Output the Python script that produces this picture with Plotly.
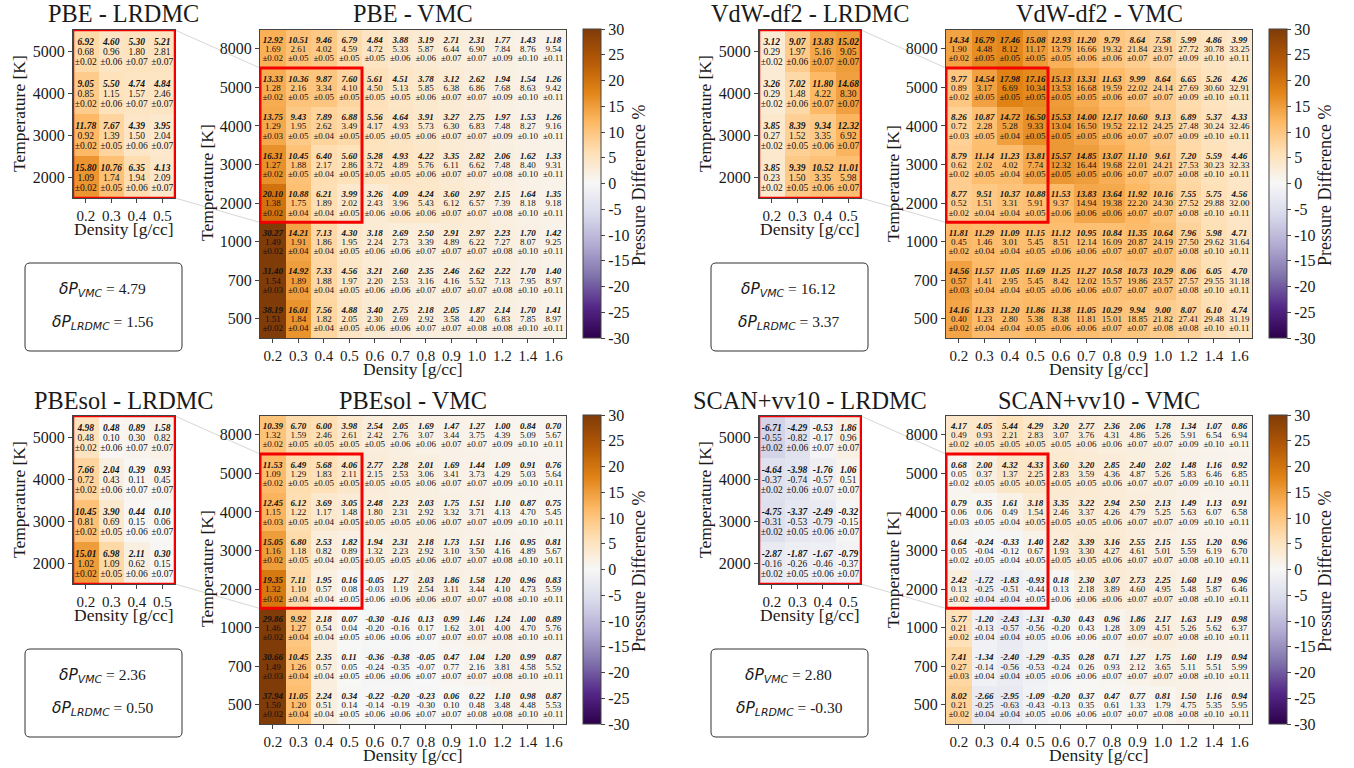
import plotly.graph_objects as go

DENSITY_VMC = ["0.2","0.3","0.4","0.5","0.6","0.7","0.8","0.9","1.0","1.2","1.4","1.6"]
DENSITY_LRDMC = ["0.2","0.3","0.4","0.5"]
TEMP_VMC = ["8000","5000","4000","3000","2000","1000","700","500"]
TEMP_LRDMC = ["5000","4000","3000","2000"]
CB_TICKS = [30,25,20,15,10,5,0,-5,-10,-15,-20,-25,-30]

VMC_ERR = [
 [.02,.05,.05,.05,.05,.06,.06,.07,.07,.09,.10,.11],
 [.02,.05,.05,.05,.05,.05,.06,.07,.07,.09,.10,.11],
 [.03,.05,.04,.05,.05,.05,.06,.07,.07,.09,.10,.11],
 [.02,.05,.04,.05,.05,.05,.06,.07,.07,.08,.10,.11],
 [.02,.04,.04,.05,.06,.06,.06,.07,.07,.08,.10,.11],
 [.02,.04,.04,.05,.06,.06,.07,.07,.07,.08,.10,.11],
 [.03,.04,.04,.05,.06,.06,.07,.07,.07,.08,.10,.11],
 [.02,.04,.04,.05,.06,.06,.07,.07,.08,.08,.10,.11],
]
LRDMC_ERR = [
 [.02,.06,.07,.07],
 [.02,.06,.07,.07],
 [.02,.05,.06,.07],
 [.02,.05,.06,.07],
]

PBE_VMC_PCT = [
 [12.92,10.51,9.46,6.79,4.84,3.88,3.19,2.71,2.31,1.77,1.43,1.18],
 [13.33,10.36,9.87,7.60,5.61,4.51,3.78,3.12,2.62,1.94,1.54,1.26],
 [13.75,9.43,7.89,6.88,5.56,4.64,3.91,3.27,2.75,1.97,1.53,1.26],
 [16.31,10.45,6.40,5.60,5.28,4.93,4.22,3.35,2.82,2.06,1.62,1.33],
 [20.10,10.88,6.21,3.99,3.26,4.09,4.24,3.60,2.97,2.15,1.64,1.35],
 [30.27,14.21,7.13,4.30,3.18,2.69,2.50,2.91,2.97,2.23,1.70,1.42],
 [31.40,14.92,7.33,4.56,3.21,2.60,2.35,2.46,2.62,2.22,1.70,1.40],
 [38.19,16.01,7.56,4.88,3.40,2.75,2.18,2.05,1.87,2.14,1.70,1.41],
]
PBE_VMC_P = [
 [1.69,2.61,4.02,4.59,4.72,5.33,5.87,6.44,6.90,7.84,8.76,9.54],
 [1.28,2.16,3.34,4.10,4.50,5.13,5.85,6.38,6.86,7.68,8.63,9.42],
 [1.29,1.95,2.62,3.49,4.17,4.93,5.73,6.30,6.83,7.48,8.27,9.16],
 [1.27,1.88,2.17,2.86,3.72,4.89,5.76,6.11,6.62,7.48,8.40,9.31],
 [1.38,1.75,1.89,2.02,2.43,3.96,5.43,6.12,6.57,7.39,8.18,9.18],
 [1.49,1.91,1.86,1.95,2.24,2.73,3.39,4.89,6.22,7.27,8.07,9.25],
 [1.54,1.89,1.88,1.97,2.20,2.53,3.16,4.16,5.52,7.13,7.95,8.97],
 [1.51,1.84,1.82,2.05,2.30,2.69,2.92,3.58,4.20,6.83,7.85,8.97],
]
PBE_LRDMC_PCT = [[6.92,4.60,5.30,5.21],[9.05,5.50,4.74,4.84],[11.78,7.67,4.39,3.95],[15.80,10.76,6.35,4.13]]
PBE_LRDMC_P = [[.68,.96,1.80,2.81],[.85,1.15,1.57,2.46],[.92,1.39,1.50,2.04],[1.09,1.74,1.94,2.09]]

VDW_VMC_PCT = [
 [14.34,16.79,17.46,15.08,12.93,11.20,9.79,8.64,7.58,5.99,4.86,3.99],
 [9.77,14.54,17.98,17.16,15.13,13.31,11.63,9.99,8.64,6.65,5.26,4.26],
 [8.26,10.87,14.72,16.50,15.53,14.00,12.17,10.60,9.13,6.89,5.37,4.33],
 [8.79,11.14,11.23,13.81,15.57,14.85,13.07,11.10,9.61,7.20,5.59,4.46],
 [8.77,9.51,10.37,10.88,11.53,13.83,13.64,11.92,10.16,7.55,5.75,4.56],
 [11.81,11.29,11.09,11.15,11.12,10.95,10.84,11.35,10.64,7.96,5.98,4.71],
 [14.56,11.57,11.05,11.69,11.25,11.27,10.58,10.73,10.29,8.06,6.05,4.70],
 [14.16,11.33,11.20,11.86,11.38,11.05,10.29,9.94,9.00,8.07,6.10,4.74],
]
VDW_VMC_P = [
 [1.90,4.48,8.12,11.17,13.79,16.66,19.32,21.84,23.91,27.72,30.78,33.25],
 [.89,3.17,6.69,10.34,13.53,16.68,19.59,22.02,24.14,27.69,30.60,32.91],
 [.72,2.28,5.28,9.33,13.04,16.50,19.52,22.12,24.25,27.48,30.24,32.46],
 [.62,2.02,4.02,7.74,12.32,16.44,19.68,22.01,24.21,27.53,30.23,32.33],
 [.52,1.51,3.31,5.91,9.37,14.94,19.38,22.20,24.30,27.52,29.88,32.00],
 [.45,1.46,3.01,5.45,8.51,12.14,16.09,20.87,24.19,27.50,29.62,31.64],
 [.57,1.41,2.95,5.45,8.42,12.02,15.57,19.86,23.57,27.57,29.55,31.18],
 [.40,1.23,2.80,5.38,8.38,11.81,15.01,18.85,21.82,27.41,29.48,31.19],
]
VDW_LRDMC_PCT = [[3.12,9.07,13.83,15.02],[3.26,7.02,11.80,14.68],[3.85,8.39,9.34,12.32],[3.85,9.39,10.52,11.01]]
VDW_LRDMC_P = [[.29,1.97,5.16,9.05],[.29,1.48,4.22,8.30],[.27,1.52,3.35,6.92],[.23,1.50,3.35,5.98]]

SOL_VMC_PCT = [
 [10.39,6.70,6.00,3.98,2.54,2.05,1.69,1.47,1.27,1.00,.84,.70],
 [11.53,6.49,5.68,4.06,2.77,2.28,2.01,1.69,1.44,1.09,.91,.76],
 [12.45,6.12,3.69,3.05,2.48,2.23,2.03,1.75,1.51,1.10,.87,.75],
 [15.05,6.80,2.53,1.82,1.94,2.31,2.18,1.73,1.51,1.16,.95,.81],
 [19.35,7.11,1.95,.16,-.05,1.27,2.03,1.86,1.58,1.20,.96,.83],
 [29.86,9.92,2.18,.07,-.30,-.16,.13,.99,1.46,1.24,1.00,.89],
 [30.66,10.45,2.35,.11,-.36,-.38,-.05,.47,1.04,1.20,.99,.87],
 [37.94,11.05,2.24,.34,-.22,-.20,-.23,.06,.22,1.10,.98,.87],
]
SOL_VMC_P = [
 [1.32,1.59,2.46,2.61,2.42,2.76,3.07,3.44,3.75,4.39,5.09,5.67],
 [1.09,1.29,1.83,2.11,2.15,2.53,3.06,3.41,3.73,4.29,5.03,5.64],
 [1.15,1.22,1.17,1.48,1.80,2.31,2.92,3.32,3.71,4.13,4.70,5.45],
 [1.16,1.18,.82,.89,1.32,2.23,2.92,3.10,3.50,4.16,4.89,5.67],
 [1.32,1.10,.57,.08,-.03,1.19,2.54,3.11,3.44,4.10,4.73,5.59],
 [1.46,1.27,.54,.04,-.20,-.16,.17,1.62,3.01,4.00,4.70,5.76],
 [1.49,1.26,.57,.05,-.24,-.35,-.07,.77,2.16,3.81,4.58,5.52],
 [1.50,1.20,.51,.14,-.14,-.19,-.30,.10,.48,3.48,4.48,5.53],
]
SOL_LRDMC_PCT = [[4.98,.48,.89,1.58],[7.66,2.04,.39,.93],[10.45,3.90,.44,.10],[15.01,6.98,2.11,.30]]
SOL_LRDMC_P = [[.48,.10,.30,.82],[.72,.43,.11,.45],[.81,.69,.15,.06],[1.02,1.09,.62,.15]]

SCAN_VMC_PCT = [
 [4.17,4.05,5.44,4.29,3.20,2.77,2.36,2.06,1.78,1.34,1.07,.86],
 [.68,2.00,4.32,4.33,3.60,3.20,2.85,2.40,2.02,1.48,1.16,.92],
 [.79,.35,1.61,3.18,3.35,3.22,2.94,2.50,2.13,1.49,1.13,.91],
 [.64,-.24,-.33,1.40,2.82,3.39,3.16,2.55,2.15,1.55,1.20,.96],
 [2.42,-1.72,-1.83,-.93,.18,2.30,3.07,2.73,2.25,1.60,1.19,.96],
 [5.77,-1.20,-2.43,-1.31,-.30,.43,.96,1.86,2.17,1.63,1.19,.98],
 [7.41,-1.34,-2.40,-1.29,-.35,.28,.71,1.27,1.75,1.60,1.19,.94],
 [8.02,-2.66,-2.95,-1.09,-.20,.37,.47,.77,.81,1.50,1.16,.94],
]
SCAN_VMC_P = [
 [.49,.93,2.21,2.83,3.07,3.76,4.31,4.86,5.26,5.91,6.54,6.94],
 [.05,.37,1.37,2.25,2.83,3.59,4.36,4.87,5.26,5.83,6.46,6.85],
 [.06,.06,.49,1.54,2.46,3.37,4.26,4.79,5.25,5.63,6.07,6.58],
 [.05,-.04,-.12,.67,1.93,3.30,4.27,4.61,5.01,5.59,6.19,6.70],
 [.13,-.25,-.51,-.44,.13,2.18,3.89,4.60,4.95,5.48,5.87,6.46],
 [.21,-.13,-.57,-.56,-.20,.43,1.28,3.09,4.51,5.26,5.62,6.37],
 [.27,-.14,-.56,-.53,-.24,.26,.93,2.12,3.65,5.11,5.51,5.99],
 [.21,-.25,-.63,-.43,-.13,.35,.61,1.33,1.79,4.75,5.35,5.95],
]
SCAN_LRDMC_PCT = [[-6.71,-4.29,-.53,1.86],[-4.64,-3.98,-1.76,1.06],[-4.75,-3.37,-2.49,-.32],[-2.87,-1.87,-1.67,-.79]]
SCAN_LRDMC_P = [[-.55,-.82,-.17,.96],[-.37,-.74,-.57,.51],[-.31,-.53,-.79,-.15],[-.16,-.26,-.46,-.37]]

PANELS = [
 ("PBE", PBE_VMC_PCT, PBE_VMC_P, PBE_LRDMC_PCT, PBE_LRDMC_P, "4.79", "1.56"),
 ("VdW-df2", VDW_VMC_PCT, VDW_VMC_P, VDW_LRDMC_PCT, VDW_LRDMC_P, "16.12", "3.37"),
 ("PBEsol", SOL_VMC_PCT, SOL_VMC_P, SOL_LRDMC_PCT, SOL_LRDMC_P, "2.36", "0.50"),
 ("SCAN+vv10", SCAN_VMC_PCT, SCAN_VMC_P, SCAN_LRDMC_PCT, SCAN_LRDMC_P, "2.80", "-0.30"),
]
OFFSETS = [(0, 0), (686, 0), (0, 386), (686, 386)]

W, H = 1354, 768
SERIF = "Liberation Serif"
INK = "#111111"
FRAME = "#444444"
COLORS = [[0.0,"rgb(45,0,75)"],[0.1,"rgb(84,39,136)"],[0.2,"rgb(128,115,172)"],[0.3,"rgb(178,171,210)"],
          [0.4,"rgb(216,218,235)"],[0.5,"rgb(247,247,247)"],[0.6,"rgb(254,224,182)"],[0.7,"rgb(253,184,99)"],
          [0.8,"rgb(224,130,20)"],[0.9,"rgb(179,88,6)"],[1.0,"rgb(127,59,8)"]]

def px(x): return x / W
def py(y): return 1 - y / H

fig = go.Figure()
layout = {}
annotations = []
shapes = []
axis_no = 0

def label(text, x, y, size=17.5, angle=0):
    annotations.append(dict(text=text, x=px(x), y=py(y), xref="paper", yref="paper", showarrow=False,
                            textangle=angle, xanchor="center", yanchor="middle",
                            font=dict(family=SERIF, size=size, color="#1a1a1a")))

def add_map(pct, pres, err, xlabels, ylabels, box, fs, colorbar=None, red=None, redw=2.5):
    global axis_no
    axis_no += 1
    suf = "" if axis_no == 1 else str(axis_no)
    xa, ya = "x" + suf, "y" + suf
    nr, nc = len(ylabels), len(xlabels)
    xs = list(range(nc))
    ys = list(range(nr))
    fig.add_trace(go.Heatmap(
        z=pct[::-1], x=xs, y=ys, xaxis=xa, yaxis=ya, zmin=-30, zmax=30, colorscale=COLORS,
        showscale=colorbar is not None, hoverinfo="skip",
        colorbar=colorbar))
    cx, cy = [], []
    for r in range(nr):
        for c in range(nc):
            cx.append(c)
            cy.append(nr - 1 - r)
    fl = lambda m: [m[r][c] for r in range(nr) for c in range(nc)]
    levels = [
        (0.21, [f"{v:.2f}" for v in fl(pct)], dict(style="italic", weight="bold")),
        (-0.03, [f"{v:.2f}" for v in fl(pres)], dict()),
        (-0.27, [f"±{v:.2f}" for v in fl(err)], dict()),
    ]
    for dy, txt, style in levels:
        fig.add_trace(go.Scatter(
            x=cx, y=[v + dy for v in cy], text=txt, mode="text", xaxis=xa, yaxis=ya,
            textposition="middle center", hoverinfo="skip", showlegend=False, cliponaxis=False,
            textfont=dict(family=SERIF, size=fs, color=INK, **style)))
    x0, y0, x1, y1 = box
    layout["xaxis" + suf] = dict(
        domain=[px(x0), px(x1)], anchor=ya, range=[-0.5, nc - 0.5], tickmode="array", tickvals=xs,
        ticktext=xlabels, ticks="outside", ticklen=4, tickcolor=FRAME, showgrid=False, zeroline=False,
        showline=True, mirror=True, linecolor=FRAME, linewidth=1,
        tickfont=dict(family=SERIF, size=15, color="#1a1a1a"))
    layout["yaxis" + suf] = dict(
        domain=[py(y1), py(y0)], anchor=xa, range=[-0.5, nr - 0.5], tickmode="array", tickvals=ys,
        ticktext=ylabels[::-1], ticks="outside", ticklen=4, tickcolor=FRAME, showgrid=False, zeroline=False,
        showline=True, mirror=True, linecolor=FRAME, linewidth=1,
        tickfont=dict(family=SERIF, size=16, color="#1a1a1a"))
    if red:
        shapes.append(dict(type="rect", xref=xa, yref=ya, x0=red[0], x1=red[1], y0=red[2], y1=red[3],
                           line=dict(color="#f40000", width=redw), layer="above"))

for (name, vp, vv, lp, lv, dv, dl), (ox, oy) in zip(PANELS, OFFSETS):
    lbox = (73 + ox, 30 + oy, 175 + ox, 198 + oy)
    add_map(lp, lv, LRDMC_ERR, DENSITY_LRDMC, TEMP_LRDMC, lbox, 9.5, red=(-0.5, 3.5, -0.5, 3.5), redw=2.5)
    vbox = (260 + ox, 29.5 + oy, 566 + ox, 338 + oy)
    cb = dict(x=px(583 + ox), xanchor="left", y=py(183.5 + oy), yanchor="middle", len=308.5 / H, lenmode="fraction",
              thickness=18, thicknessmode="pixels", xpad=0, ypad=0, outlinewidth=1, outlinecolor=FRAME,
              tickmode="array", tickvals=CB_TICKS, ticktext=[str(t) for t in CB_TICKS], ticks="outside",
              ticklen=4, tickcolor=FRAME, tickfont=dict(family=SERIF, size=16, color="#1a1a1a"))
    add_map(vp, vv, VMC_ERR, DENSITY_VMC, TEMP_VMC, vbox, 9, colorbar=cb, red=(-0.5, 3.5, 2.5, 6.5), redw=3)

    label(f"{name} - LRDMC", 124 + ox, 14 + oy, size=24.3)
    label(f"{name} - VMC", 413 + ox, 14 + oy, size=24.3)
    label("Temperature [K]", 19 + ox, 114 + oy, angle=-90)
    label("Temperature [K]", 207 + ox, 183 + oy, angle=-90)
    label("Density [g/cc]", 124 + ox, 229 + oy)
    label("Density [g/cc]", 413 + ox, 369 + oy)
    label("Pressure Difference %", 639 + ox, 185 + oy, size=18, angle=-90)

    for (a, b) in [((175, 30), (260, 68)), ((175, 198), (260, 222.5))]:
        shapes.append(dict(type="line", xref="paper", yref="paper", x0=px(a[0] + ox), y0=py(a[1] + oy),
                           x1=px(b[0] + ox), y1=py(b[1] + oy), line=dict(color="#cccccc", width=0.8), layer="below"))
    bx0, by0, bx1, by1, r = 25 + ox, 263 + oy, 182 + ox, 351 + oy, 5
    p = lambda x, y: f"{px(x)} {py(y)}"
    path = (f"M {p(bx0 + r, by0)} L {p(bx1 - r, by0)} Q {p(bx1, by0)} {p(bx1, by0 + r)} "
            f"L {p(bx1, by1 - r)} Q {p(bx1, by1)} {p(bx1 - r, by1)} L {p(bx0 + r, by1)} "
            f"Q {p(bx0, by1)} {p(bx0, by1 - r)} L {p(bx0, by0 + r)} Q {p(bx0, by0)} {p(bx0 + r, by0)} Z")
    shapes.append(dict(type="path", xref="paper", yref="paper", path=path,
                       line=dict(color="#333333", width=1), fillcolor="white", layer="below"))
    math = '<span style="font-family:DejaVu Sans"><i>δP<sub>{}</sub></i></span> = {}'
    label(math.format("VMC", dv), 102 + ox, 290 + oy, size=15.5)
    label(math.format("LRDMC", dl), 103 + ox, 323 + oy, size=15.5)

fig.update_layout(width=W, height=H, margin=dict(l=0, r=0, t=0, b=0), paper_bgcolor="white", plot_bgcolor="white",
                  showlegend=False, annotations=annotations, shapes=shapes, **layout)
fig.write_html("out.html", post_script="document.body.style.margin='0';", config=dict(displayModeBar=False))
